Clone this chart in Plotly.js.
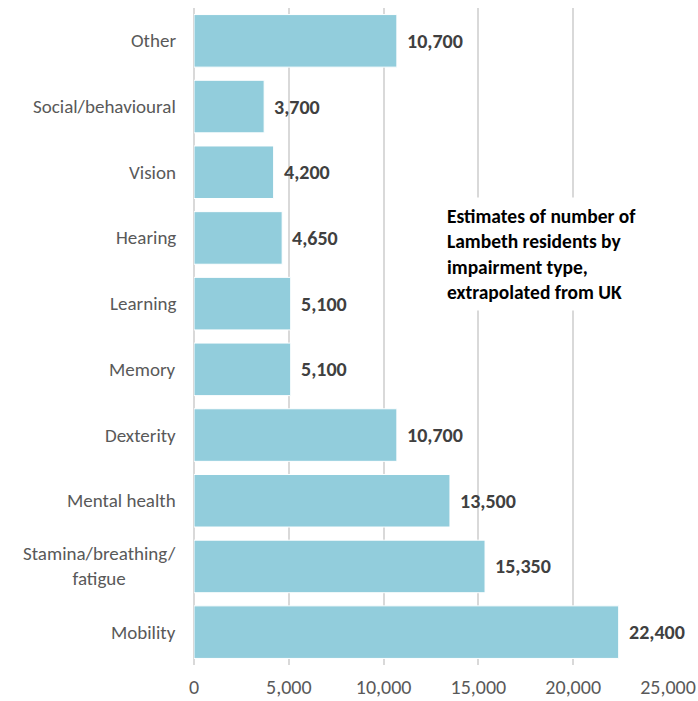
<!DOCTYPE html>
<html><head><meta charset="utf-8">
<script src="https://cdn.plot.ly/plotly-3.0.1.min.js"></script>
<style>html,body{margin:0;padding:0;background:#fff}</style>
</head><body>
<div id="chart" style="width:698px;height:701px"></div>
<script>
const categories = ["Mobility","Stamina/breathing/<br>fatigue","Mental health","Dexterity","Memory","Learning","Hearing","Vision","Social/behavioural","Other"];
const values = [22400,15350,13500,10700,5100,5100,4650,4200,3700,10700];
const valueLabels = ["22,400","15,350","13,500","10,700","5,100","5,100","4,650","4,200","3,700","10,700"];
const xTickVals = [0,5000,10000,15000,20000,25000];
const xTickText = ["0","5,000","10,000","15,000","20,000","25,000"];
const noteText = "Estimates of number of<br>Lambeth residents by<br>impairment type,<br>extrapolated from UK";

const FONT = "Calibri, Carlito, Lato, 'Open Sans', sans-serif";

const trace = {
  type: "bar", orientation: "h",
  x: values, y: categories,
  marker: {color: "#92CDDC", line: {color: "#ffffff", width: 1}},
  hoverinfo: "none"
};

const annotations = values.map((v, i) => ({
  x: v, y: categories[i], xref: "x", yref: "y",
  text: "<b>" + valueLabels[i] + "</b>",
  showarrow: false, xanchor: "left", xshift: 8,
  font: {family: FONT, size: 20, color: "#404040"}
}));
categories.forEach((c) => annotations.push({
  x: 0, y: c, xref: "paper", yref: "y",
  text: c, showarrow: false, xanchor: "right", align: "center",
  xshift: -16,
  font: {family: FONT, size: 19, color: "#595959"}
}));
annotations.push({
  xref: "paper", yref: "paper", x: 0.52, y: 0.626,
  xanchor: "left", yanchor: "middle", align: "left",
  text: "<b>" + noteText + "</b>", showarrow: false,
  bgcolor: "#ffffff", borderpad: 6,
  font: {family: FONT, size: 19.5, color: "#000000"}
});

const layout = {
  width: 698, height: 701,
  margin: {l: 194, r: 30, t: 8, b: 36},
  paper_bgcolor: "#ffffff", plot_bgcolor: "#ffffff",
  showlegend: false, bargap: 0.2,
  font: {family: FONT, size: 19, color: "#595959"},
  xaxis: {
    range: [0, 25000], tickvals: xTickVals, ticktext: xTickText,
    showgrid: true, gridcolor: "#d9d9d9", gridwidth: 2,
    zeroline: true, zerolinecolor: "#d9d9d9", zerolinewidth: 2,
    ticks: "", ticklabelstandoff: 8, fixedrange: true,
    tickfont: {family: FONT, size: 20, color: "#595959"}
  },
  yaxis: {
    showgrid: false, zeroline: false, ticks: "", showticklabels: false,
    categoryorder: "array", categoryarray: categories
  },
  annotations: annotations
};

Plotly.newPlot("chart", [trace], layout, {displayModeBar: false, staticPlot: true});
</script>
</body></html>
